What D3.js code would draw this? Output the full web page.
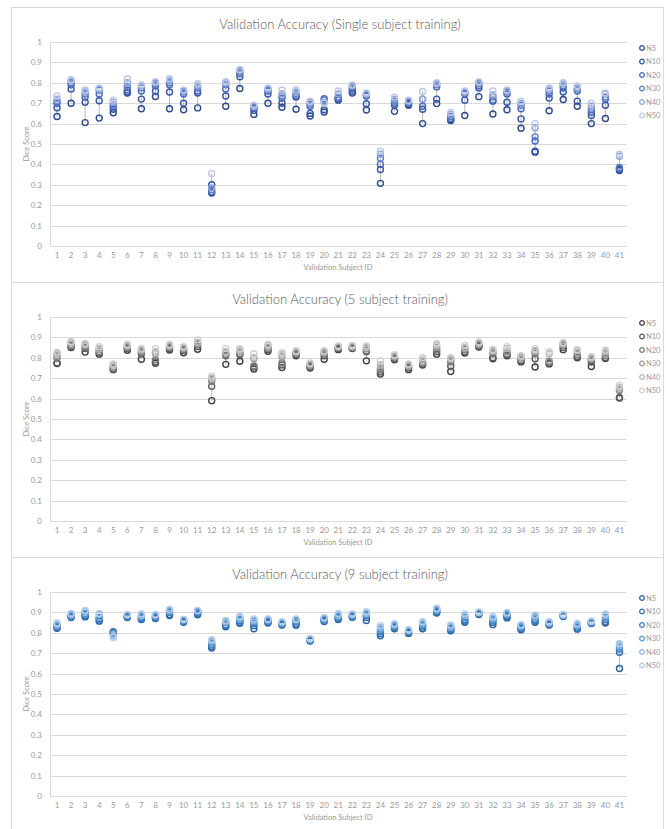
<!DOCTYPE html>
<meta charset="utf-8">
<script src="https://d3js.org/d3.v7.min.js"></script>
<style>
  body { margin: 0; background: #fff; }
  text { font-family: Lato, "Open Sans", sans-serif; }
</style>
<div id="chart"></div>
<script>

    // subjects and series
    var subjects = d3.range(1, 42).map(String);
    var seriesNames = ["N5", "N10", "N20", "N30", "N40", "N50"];
    var yTicks = [0, 0.1, 0.2, 0.3, 0.4, 0.5, 0.6, 0.7, 0.8, 0.9, 1];

    // Single subject training
    var single_N5 = [.635,.70,.605,.627,.653,.75,.673,.733,.673,.668,.677,.26,.685,.772,.645,.70,.68,.67,.637,.657,.715,.75,.667,.307,.66,.69,.60,.698,.615,.64,.732,.647,.668,.577,.46,.663,.718,.685,.60,.625,.37];
    var single_N10 = [.678,.77,.705,.712,.67,.755,.72,.76,.755,.70,.75,.30,.735,.83,.665,.745,.70,.73,.65,.668,.72,.76,.697,.375,.69,.695,.67,.72,.62,.715,.775,.71,.705,.623,.465,.725,.755,.71,.64,.69,.375];
    var single_N20 = [.70,.79,.73,.745,.685,.765,.76,.785,.79,.745,.76,.265,.77,.845,.675,.76,.725,.735,.685,.722,.725,.77,.735,.40,.70,.70,.685,.78,.625,.745,.785,.715,.745,.673,.515,.745,.775,.76,.655,.72,.38];
    var single_N30 = [.71,.80,.745,.765,.69,.78,.775,.795,.80,.755,.775,.275,.79,.855,.68,.765,.735,.745,.695,.715,.73,.78,.74,.43,.71,.705,.72,.79,.635,.75,.795,.73,.755,.69,.535,.76,.785,.77,.67,.73,.385];
    var single_N40 = [.72,.81,.755,.77,.705,.80,.785,.80,.81,.76,.785,.285,.80,.86,.685,.77,.745,.755,.705,.705,.745,.785,.745,.45,.72,.71,.72,.795,.645,.755,.80,.74,.76,.70,.58,.77,.795,.775,.685,.745,.44];
    var single_N50 = [.735,.815,.765,.775,.715,.82,.79,.805,.82,.765,.795,.355,.805,.865,.69,.775,.765,.765,.71,.70,.76,.79,.75,.465,.73,.715,.757,.80,.655,.76,.805,.76,.765,.71,.60,.775,.80,.785,.70,.75,.45];

    // 5 subject training
    var five_N5 = [.772,.85,.828,.818,.742,.837,.793,.773,.838,.825,.842,.59,.768,.783,.745,.832,.752,.81,.75,.793,.84,.845,.785,.72,.79,.742,.765,.818,.733,.823,.853,.795,.81,.78,.755,.77,.84,.80,.757,.797,.603];
    var five_N10 = [.775,.855,.845,.825,.745,.845,.82,.78,.845,.835,.855,.66,.81,.815,.755,.84,.765,.815,.755,.81,.845,.848,.83,.73,.795,.75,.77,.83,.76,.83,.858,.80,.815,.785,.795,.775,.85,.805,.78,.80,.605];
    var five_N20 = [.80,.86,.85,.83,.75,.85,.83,.79,.85,.84,.865,.685,.815,.82,.76,.845,.775,.82,.76,.82,.85,.85,.835,.74,.80,.755,.775,.84,.78,.84,.862,.82,.82,.79,.82,.78,.86,.815,.79,.81,.64];
    var five_N30 = [.81,.865,.86,.84,.755,.855,.835,.82,.855,.845,.87,.695,.82,.83,.795,.85,.805,.825,.765,.825,.852,.853,.845,.75,.805,.76,.78,.85,.79,.845,.868,.83,.83,.80,.83,.785,.865,.825,.795,.82,.645];
    var five_N40 = [.82,.875,.865,.845,.765,.86,.84,.83,.86,.85,.875,.70,.83,.84,.80,.86,.815,.83,.77,.83,.855,.857,.85,.765,.81,.765,.79,.86,.795,.85,.872,.835,.845,.805,.835,.82,.87,.835,.80,.83,.655];
    var five_N50 = [.828,.88,.87,.855,.77,.865,.845,.845,.865,.855,.888,.71,.845,.845,.82,.865,.825,.835,.775,.835,.858,.86,.858,.785,.815,.77,.80,.87,.80,.86,.878,.84,.855,.81,.845,.83,.875,.84,.805,.837,.665];

    // 9 subject training
    var nine_N5 = [.822,.875,.878,.857,.80,.875,.865,.87,.885,.852,.888,.725,.83,.847,.82,.848,.838,.837,.76,.855,.865,.876,.86,.785,.82,.797,.82,.897,.81,.852,.89,.84,.873,.815,.852,.838,.88,.818,.845,.848,.625];
    var nine_N10 = [.825,.878,.882,.862,.805,.878,.868,.873,.89,.855,.892,.733,.835,.852,.835,.852,.84,.845,.762,.858,.87,.878,.875,.795,.825,.80,.828,.90,.815,.858,.893,.85,.88,.82,.858,.84,.882,.822,.847,.855,.705];
    var nine_N20 = [.83,.88,.89,.87,.80,.88,.875,.878,.90,.858,.90,.74,.84,.86,.845,.856,.843,.855,.765,.862,.875,.882,.885,.805,.83,.805,.835,.905,.82,.865,.895,.858,.885,.825,.865,.843,.884,.828,.85,.865,.72];
    var nine_N30 = [.835,.885,.895,.875,.795,.885,.88,.882,.905,.862,.905,.75,.85,.865,.855,.86,.847,.86,.767,.867,.88,.886,.89,.815,.835,.808,.84,.91,.825,.875,.898,.865,.89,.83,.873,.847,.886,.835,.852,.875,.73];
    var nine_N40 = [.84,.89,.905,.89,.785,.888,.885,.886,.91,.865,.908,.76,.855,.875,.86,.865,.85,.865,.77,.872,.888,.89,.895,.825,.84,.812,.848,.915,.83,.885,.90,.872,.895,.835,.88,.85,.888,.84,.855,.885,.74];
    var nine_N50 = [.848,.895,.91,.895,.777,.89,.892,.89,.915,.866,.91,.766,.86,.88,.868,.868,.855,.868,.772,.875,.895,.893,.903,.835,.845,.815,.855,.92,.838,.893,.902,.88,.90,.84,.888,.854,.89,.846,.857,.892,.748];

    var blues = ["#2c4a8c", "#3355a6", "#4468bb", "#5d7cc6", "#8ea4d8", "#bac7e7"];
    var greys = ["#3f3f3f", "#595959", "#7a7a7a", "#9a9a9a", "#b5b5b5", "#cfcfcf"];
    var skyBlues = ["#2b619c", "#2f6eb2", "#3f7fc2", "#5c97d1", "#88b2df", "#b3cdea"];

    var W = 666, H = 829;
    var svg = d3.select("#chart").append("svg")
        .attr("width", W)
        .attr("height", H);

    var panels = [
        { top: 7, title: "Validation Accuracy (Single subject training)", data: [single_N5, single_N10, single_N20, single_N30, single_N40, single_N50], colors: blues },
        { top: 282, title: "Validation Accuracy (5 subject training)", data: [five_N5, five_N10, five_N20, five_N30, five_N40, five_N50], colors: greys },
        { top: 557, title: "Validation Accuracy (9 subject training)", data: [nine_N5, nine_N10, nine_N20, nine_N30, nine_N40, nine_N50], colors: skyBlues }
    ];

    var x = d3.scaleBand()
        .domain(subjects)
        .range([50, 626.5]);

    panels.forEach(function (p) {
        var g = svg.append("g").attr("transform", "translate(0," + p.top + ")");

        // chart box
        g.append("rect")
            .attr("x", 11.5).attr("y", 0.5)
            .attr("width", 652).attr("height", 275)
            .attr("fill", "#fff")
            .attr("stroke", "#d9d9d9");

        g.append("text")
            .attr("x", 340).attr("y", 22)
            .attr("text-anchor", "middle")
            .attr("font-size", 13)
            .attr("font-weight", 300)
            .attr("fill", "#595959")
            .text(p.title);

        var y = d3.scaleLinear().domain([0, 1]).range([239, 35]);

        // gridlines + y labels
        g.append("g").selectAll("line")
            .data(yTicks).enter().append("line")
            .attr("x1", 50).attr("x2", 626.5)
            .attr("y1", function (d) { return Math.round(y(d)) + 0.5; })
            .attr("y2", function (d) { return Math.round(y(d)) + 0.5; })
            .attr("stroke", "#d9d9d9");
        g.append("line")
            .attr("x1", 50.5).attr("x2", 50.5)
            .attr("y1", y(1)).attr("y2", y(0))
            .attr("stroke", "#d9d9d9");
        g.append("g").selectAll("text")
            .data(yTicks).enter().append("text")
            .attr("x", 42).attr("y", function (d) { return y(d) + 3; })
            .attr("text-anchor", "end")
            .attr("font-size", 8)
            .attr("fill", "#999")
            .text(function (d) { return d3.format("")(+d.toFixed(1)); });

        // x labels
        g.append("g").selectAll("text")
            .data(subjects).enter().append("text")
            .attr("x", function (d) { return x(d) + x.bandwidth() / 2; })
            .attr("y", 251)
            .attr("text-anchor", "middle")
            .attr("font-size", 8)
            .attr("fill", "#999")
            .text(function (d) { return d; });

        g.append("text")
            .attr("x", 338).attr("y", 263)
            .attr("text-anchor", "middle")
            .attr("font-size", 7.5)
            .attr("fill", "#999")
            .text("Validation Subject ID");

        g.append("text")
            .attr("transform", "translate(29," + ((y(0) + y(1)) / 2) + ") rotate(-90)")
            .attr("text-anchor", "middle")
            .attr("font-size", 7.5)
            .attr("fill", "#999")
            .text("Dice Score");

        // high-low lines
        g.append("g").selectAll("line")
            .data(subjects).enter().append("line")
            .attr("x1", function (d) { return x(d) + x.bandwidth() / 2; })
            .attr("x2", function (d) { return x(d) + x.bandwidth() / 2; })
            .attr("y1", function (d, i) { return y(d3.min(p.data, function (s) { return s[i]; })); })
            .attr("y2", function (d, i) { return y(d3.max(p.data, function (s) { return s[i]; })); })
            .attr("stroke", "#a6a6a6")
            .attr("stroke-width", 0.8);

        // markers
        p.data.forEach(function (vals, k) {
            g.append("g").selectAll("circle")
                .data(vals).enter().append("circle")
                .attr("cx", function (d, i) { return x(subjects[i]) + x.bandwidth() / 2; })
                .attr("cy", function (d) { return y(d); })
                .attr("r", 3)
                .attr("fill", "none")
                .attr("stroke", p.colors[k])
                .attr("stroke-width", 1.4);
        });

        // legend
        var leg = g.append("g").selectAll("g")
            .data(seriesNames).enter().append("g")
            .attr("transform", function (d, i) { return "translate(642," + (41 + i * 13.5) + ")"; });
        leg.append("circle")
            .attr("r", 2.3)
            .attr("fill", "none")
            .attr("stroke", function (d, i) { return p.colors[i]; })
            .attr("stroke-width", 1.3);
        leg.append("text")
            .attr("x", 4).attr("y", 2.8)
            .attr("font-size", 7.5)
            .attr("fill", "#999")
            .text(function (d) { return d; });
    });

</script>
